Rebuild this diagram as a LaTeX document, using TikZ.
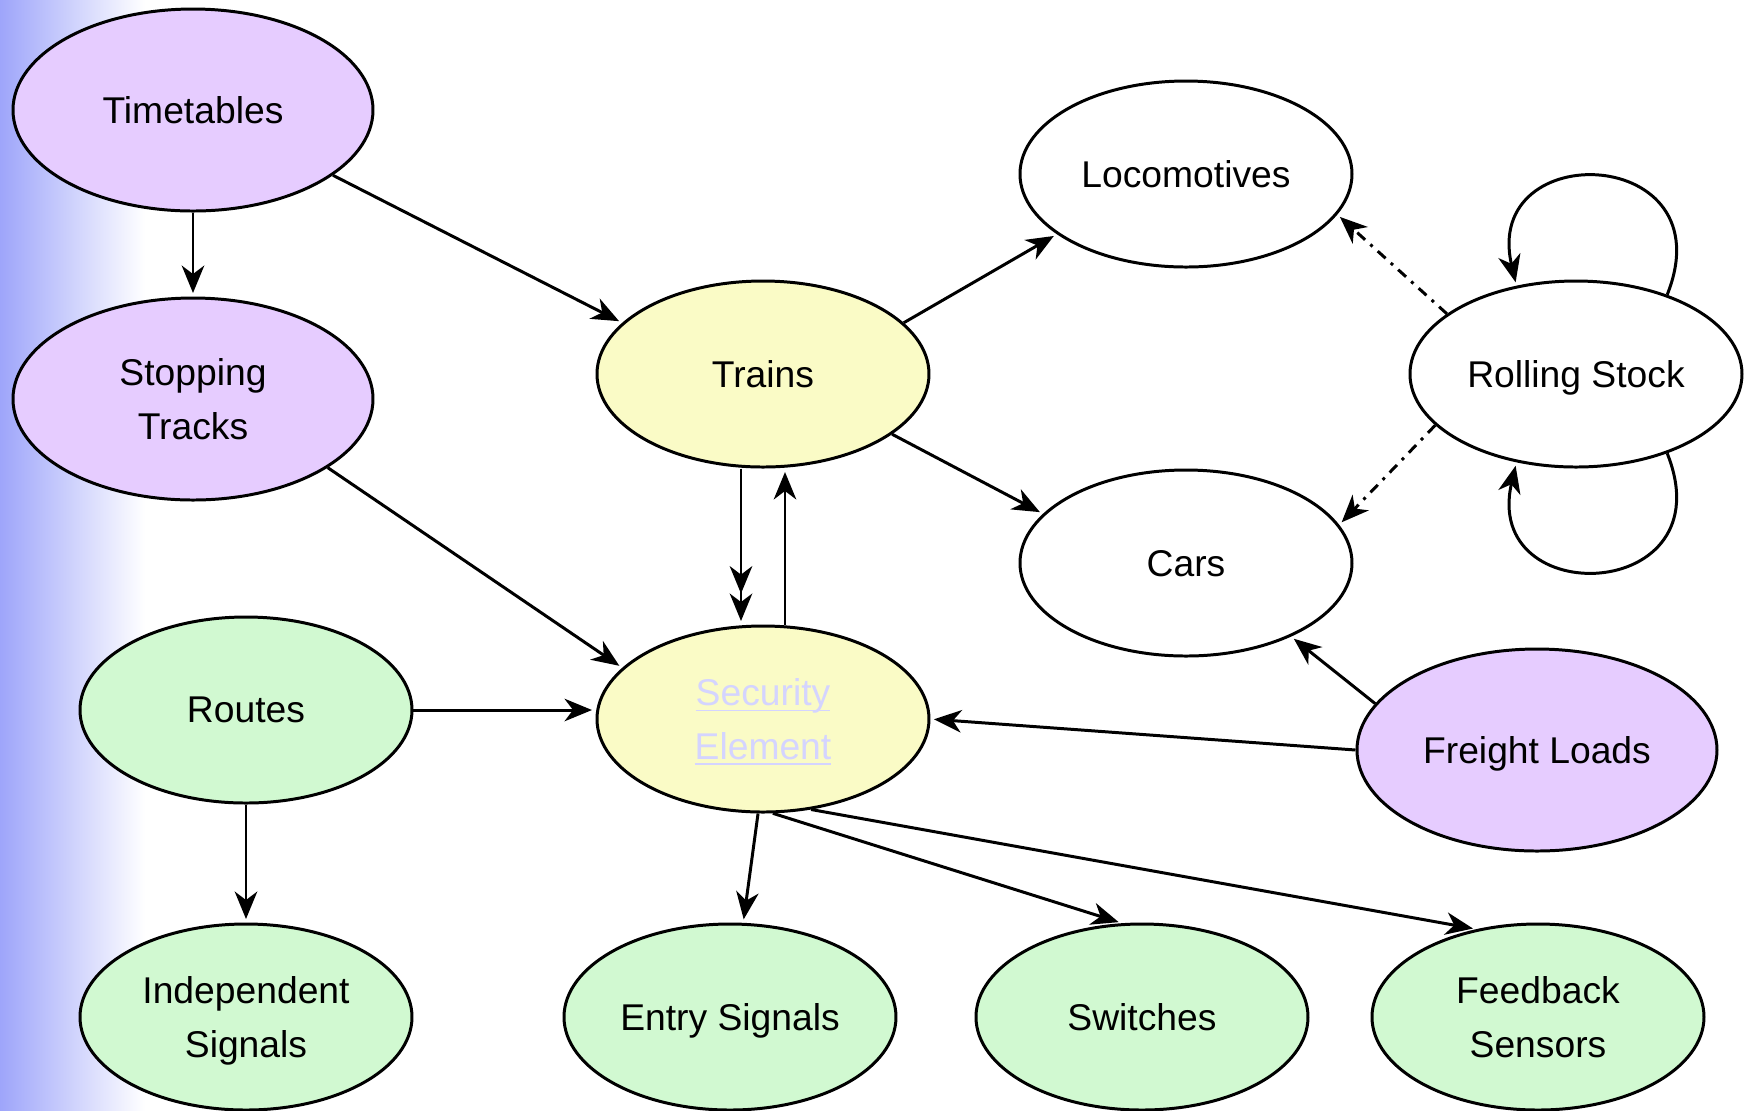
\documentclass[tikz,border=0pt]{standalone}
\usepackage{fontspec}
\setmainfont{Liberation Sans}
\usepackage{tikz}
\usetikzlibrary{arrows.meta,shapes.geometric,calc}

\definecolor{planfill}{RGB}{230,204,255}
\definecolor{trainfill}{RGB}{250,251,198}
\definecolor{signalfill}{RGB}{209,249,209}
\definecolor{linkfont}{RGB}{212,212,255}
\definecolor{stripblue}{RGB}{158,165,250}
\newcommand{\linkline}[1]{\underline{\raisebox{0pt}[\height][0pt]{#1}}}

\begin{document}
\begin{tikzpicture}[->,>={Stealth[length=7.8pt,width=6.4pt,inset=2.4pt]},shorten >=1pt,
  line width=0.85pt,
  main node/.style={ellipse,draw,inner sep=0pt,align=center,text depth=0pt,
    font=\fontsize{10.6}{15.2}\selectfont,minimum width=3.32cm,minimum height=1.86cm},
  wide node/.style={main node,minimum width=3.6cm,minimum height=2.02cm}]

\useasboundingbox (0,0) rectangle (17.45,-11.10);
\shade[left color=stripblue,right color=white,draw=none] (0,0) rectangle (1.45,-11.10);

\node[wide node,fill=planfill](Time) at (1.93,-1.10) {Timetables};
\node[wide node,fill=planfill](Stop) at (1.93,-3.99) {Stopping\\Tracks};
\node[main node,fill=trainfill](Train) at (7.63,-3.74) {Trains};
\node[main node](Loco) at (11.86,-1.74) {Locomotives};
\node[main node](Roll) at (15.76,-3.74) {Rolling Stock};
\node[main node](Cars) at (11.86,-5.63) {Cars};
\node[main node,fill=signalfill](Route) at (2.46,-7.10) {Routes};
\node[main node,fill=trainfill,text=linkfont](Sec) at (7.63,-7.19) {\linkline{Security}\\\linkline{Element}};
\node[wide node,fill=planfill](Freight) at (15.37,-7.50) {Freight Loads};
\node[main node,fill=signalfill](Indep) at (2.46,-10.17) {Independent\\Signals};
\node[main node,fill=signalfill](Entry) at (7.30,-10.17) {Entry Signals};
\node[main node,fill=signalfill](Switch) at (11.42,-10.17) {Switches};
\node[main node,fill=signalfill](Feed) at (15.38,-10.17) {Feedback\\Sensors};

\path
(Time) edge (Stop)
(Time.-25) edge (Train.160)
(Stop.-27) edge (Sec.160)
(Train.20) edge (Loco.205)
(Train.-25) edge (Cars.161)
([xshift=-2.2mm]Train.south) edge[->>] ([xshift=-2.2mm]Sec.north)
([xshift=2.2mm]Sec.north) edge ([xshift=2.2mm]Train.south)
(Roll.155) edge[dash dot] (Loco.-15)
(Roll.200) edge[dash dot] (Cars.14)
(Route.east) edge (Route.east -| Sec.west)
(Route) edge (Indep)
(Freight.west) edge (Sec.east)
(Freight.164) edge (Cars.-35)
(Sec.-93) edge (Entry.82)
(Sec.-84) edge (Switch.102)
(Sec.-62) edge (Feed.125);

\draw (Roll.41) .. controls +(0.6,1.5) and +(-0.35,1.5) .. (Roll.124);
\draw (Roll.-41) .. controls +(0.6,-1.5) and +(-0.35,-1.5) .. (Roll.-124);
\end{tikzpicture}
\end{document}
